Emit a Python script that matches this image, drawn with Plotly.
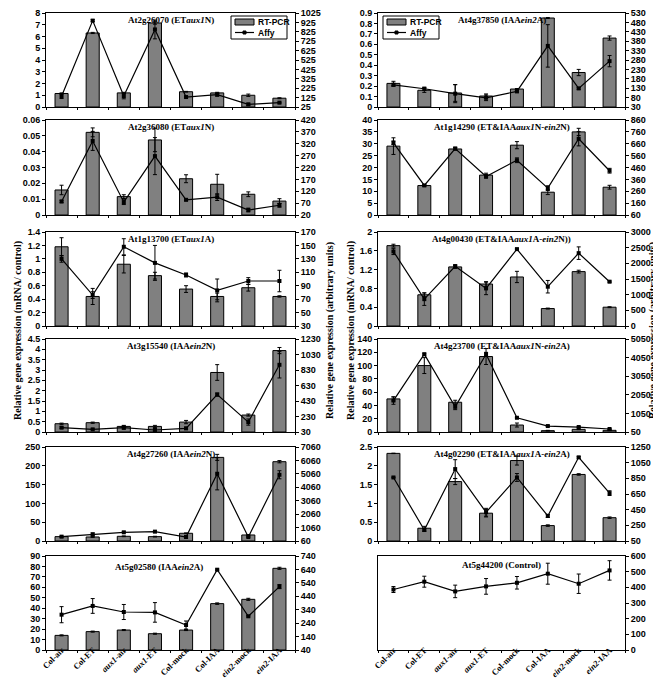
import plotly.graph_objects as go

categories = ["Col-air", "Col-ET", "aux1-air", "aux1-ET", "Col-mock", "Col-IAA", "ein2-mock", "ein2-IAA"]
category_labels = ["Col-air", "Col-ET", "<i>aux1</i>-air", "<i>aux1</i>-ET", "Col-mock", "Col-IAA",
                   "<i>ein2</i>-mock", "<i>ein2</i>-IAA"]
series_names = ["RT-PCR", "Affy"]

# At2g26070 (ET aux1 N)
at2g26070_rt = [1.15, 6.3, 1.2, 7.15, 1.3, 1.2, 1.0, 0.75]
at2g26070_rt_err = [0.05, 0.05, 0.05, 0.1, 0.03, 0.05, 0.1, 0.04]
at2g26070_affy = [140, 944, 142, 850, 131, 156, 53, 71]
at2g26070_affy_err = [25, 10, 30, 100, 8, 15, 12, 5]

# At4g37850 (IAA ein2 A)
at4g37850_rt = [0.226, 0.16, 0.134, 0.105, 0.172, 0.852, 0.33, 0.66]
at4g37850_rt_err = [0.02, 0.02, 0.08, 0.02, 0.005, 0.005, 0.03, 0.02]
at4g37850_affy = [148, 127, 101, 79, 113, 355, 129, 274]
at4g37850_affy_err = [8, 8, 48, 15, 4, 113, 5, 30]

# At2g36080 (ET aux1 N)
at2g36080_rt = [0.0158, 0.0522, 0.0116, 0.0474, 0.0229, 0.0194, 0.0131, 0.0088]
at2g36080_rt_err = [0.003, 0.0028, 0.0012, 0.0074, 0.0025, 0.0063, 0.0015, 0.0015]
at2g36080_affy = [77, 332, 74, 268, 84, 95, 41, 61]
at2g36080_affy_err = [5, 40, 10, 78, 4, 14, 8, 8]

# At1g14290 (ET&IAA aux1 N - ein2 N)
at1g14290_rt = [29.0, 12.4, 27.8, 16.8, 29.4, 9.6, 35.0, 11.7]
at1g14290_rt_err = [3.5, 0.3, 0.5, 0.8, 1.5, 1.0, 1.5, 0.8]
at1g14290_affy = [668, 309, 620, 385, 521, 286, 702, 433]
at1g14290_affy_err = [15, 5, 10, 15, 20, 20, 60, 20]

# At1g13700 (ET aux1 A)
at1g13700_rt = [1.18, 0.44, 0.92, 0.75, 0.55, 0.44, 0.57, 0.44]
at1g13700_rt_err = [0.135, 0.12, 0.13, 0.05, 0.05, 0.05, 0.05, 0.01]
at1g13700_affy = [130, 76, 148, 124, 106, 83, 97, 97]
at1g13700_affy_err = [5, 5, 12, 26, 3, 17, 5, 16]

# At4g00430 (ET&IAA aux1 A - ein2 N)
at4g00430_rt = [1.71, 0.664, 1.257, 0.893, 1.043, 0.371, 1.157, 0.4]
at4g00430_rt_err = [0.03, 0.04, 0.03, 0.05, 0.12, 0.01, 0.03, 0.01]
at4g00430_affy = [2379, 857, 1907, 1200, 2454, 1254, 2325, 1414]
at4g00430_affy_err = [100, 200, 50, 200, 20, 200, 200, 20]

# At3g15540 (IAA ein2 N)
at3g15540_rt = [0.4, 0.45, 0.27, 0.27, 0.48, 2.88, 0.82, 3.94]
at3g15540_rt_err = [0.03, 0.03, 0.05, 0.05, 0.08, 0.38, 0.05, 0.15]
at3g15540_affy = [86, 64, 86, 56, 77, 513, 158, 897]
at3g15540_affy_err = [10, 5, 20, 15, 15, 20, 40, 170]

# At4g23700 (ET&IAA aux1 N - ein2 A)
at4g23700_rt = [49.8, 100.0, 44.8, 113.6, 10.5, 2.0, 4.0, 2.5]
at4g23700_rt_err = [3, 12, 3, 12, 3, 0.5, 0.5, 0.5]
at4g23700_affy = [1740, 4232, 1402, 4232, 815, 370, 317, 210]
at4g23700_affy_err = [200, 50, 150, 100, 20, 20, 20, 20]

# At4g27260 (IAA ein2 N)
at4g27260_rt = [11.6, 10.7, 12.5, 11.6, 20.5, 222.4, 16.0, 210.9]
at4g27260_rt_err = [1, 1, 1, 1, 1, 8, 1, 3]
at4g27260_affy = [384, 558, 708, 757, 359, 5067, 359, 4992]
at4g27260_affy_err = [30, 100, 30, 30, 100, 1200, 30, 300]

# At4g02290 (ET&IAA aux1 A - ein2 A)
at4g02290_rt = [2.33, 0.34, 1.58, 0.74, 2.14, 0.41, 1.77, 0.62]
at4g02290_rt_err = [0.005, 0.05, 0.08, 0.1, 0.12, 0.02, 0.02, 0.02]
at4g02290_affy = [861, 191, 968, 417, 861, 370, 1118, 661]
at4g02290_affy_err = [5, 20, 120, 50, 50, 20, 10, 30]

# At5g02580 (IAA ein2 A)
at5g02580_rt = [14.0, 17.6, 19.1, 15.6, 19.1, 44.4, 48.5, 78.2]
at5g02580_rt_err = [0.5, 0.5, 0.5, 0.5, 0.5, 0.7, 1.0, 1.0]
at5g02580_affy = [303, 368, 323, 320, 226, 638, 291, 512]
at5g02580_affy_err = [60, 55, 56, 73, 30, 5, 5, 15]

# At5g44200 (Control)
at5g44200_affy = [386, 436, 374, 406, 429, 487, 423, 508]
at5g44200_affy_err = [19, 35, 40, 50, 40, 67, 62, 62]

titles = [
    "At2g26070 (ET<i>aux1</i>N)",
    "At4g37850 (IAA<i>ein2</i>A)",
    "At2g36080 (ET<i>aux1</i>N)",
    "At1g14290 (ET&amp;IAA<i>aux1</i>N-<i>ein2</i>N)",
    "At1g13700 (ET<i>aux1</i>A)",
    "At4g00430 (ET&amp;IAA<i>aux1</i>A-<i>ein2</i>N))",
    "At3g15540 (IAA<i>ein2</i>N)",
    "At4g23700 (ET&amp;IAA<i>aux1</i>N-<i>ein2</i>A)",
    "At4g27260 (IAA<i>ein2</i>N)",
    "At4g02290 (ET&amp;IAA<i>aux1</i>A-<i>ein2</i>A)",
    "At5g02580 (IAA<i>ein2</i>A)",
    "At5g44200 (Control)",
]

# (left max, left step, right min, right max, right step)
axis_ticks = [
    (8, 1, 25, 1025, 100),
    (0.9, 0.1, 30, 530, 50),
    (0.06, 0.01, 20, 420, 50),
    (40, 5, 60, 860, 100),
    (1.4, 0.2, 30, 170, 20),
    (2, 0.4, 0, 3000, 500),
    (4.5, 0.5, 30, 1230, 200),
    (140, 20, 50, 5050, 1000),
    (250, 50, 60, 7060, 1000),
    (2.5, 0.5, 50, 1250, 200),
    (90, 10, 40, 740, 100),
    (None, None, 0, 600, 100),
]

rt_series = [at2g26070_rt, at4g37850_rt, at2g36080_rt, at1g14290_rt, at1g13700_rt, at4g00430_rt,
             at3g15540_rt, at4g23700_rt, at4g27260_rt, at4g02290_rt, at5g02580_rt, None]
rt_errs = [at2g26070_rt_err, at4g37850_rt_err, at2g36080_rt_err, at1g14290_rt_err, at1g13700_rt_err,
           at4g00430_rt_err, at3g15540_rt_err, at4g23700_rt_err, at4g27260_rt_err, at4g02290_rt_err,
           at5g02580_rt_err, None]
affy_series = [at2g26070_affy, at4g37850_affy, at2g36080_affy, at1g14290_affy, at1g13700_affy,
               at4g00430_affy, at3g15540_affy, at4g23700_affy, at4g27260_affy, at4g02290_affy,
               at5g02580_affy, at5g44200_affy]
affy_errs = [at2g26070_affy_err, at4g37850_affy_err, at2g36080_affy_err, at1g14290_affy_err,
             at1g13700_affy_err, at4g00430_affy_err, at3g15540_affy_err, at4g23700_affy_err,
             at4g27260_affy_err, at4g02290_affy_err, at5g02580_affy_err, at5g44200_affy_err]

W, H = 661, 678
col_x = [(38, 287), (370, 617)]
row_y = [(5, 99), (112, 207), (224, 318), (331, 424), (439, 533), (548, 642)]
BAR_COLOR = "#808080"

tickfont = dict(family="Liberation Sans, Arial", size=9, color="black", weight="bold")
serif = "Liberation Serif, Times New Roman"

fig = go.Figure()
layout = {}
annotations = []
shapes = []
ax_common = dict(showline=True, linecolor="black", linewidth=1, ticks="outside", ticklen=3,
                 tickcolor="black", tickfont=tickfont, showgrid=False, zeroline=False,
                 ticklabeloverflow="allow")

for i in range(12):
    row, col = divmod(i, 2)
    x0, x1 = col_x[col]
    t, b = row_y[row]
    dom_x = [x0 / W, x1 / W]
    dom_y = [1 - b / H, 1 - t / H]
    lmax, lstep, rmin, rmax, rstep = axis_ticks[i]

    xn = "x" if i == 0 else f"x{i+1}"
    xk = "xaxis" if i == 0 else f"xaxis{i+1}"
    yl = "y" if i == 0 else f"y{2*i+1}"
    ylk = "yaxis" if i == 0 else f"yaxis{2*i+1}"
    yr = f"y{2*i+2}"
    yrk = f"yaxis{2*i+2}"
    has_bars = rt_series[i] is not None
    line_axis = yr if has_bars else yl

    if has_bars:
        fig.add_trace(go.Bar(
            x=categories, y=rt_series[i], xaxis=xn, yaxis=yl, name=series_names[0],
            width=0.42, marker=dict(color=BAR_COLOR, line=dict(color="black", width=1)),
            error_y=dict(type="data", array=rt_errs[i], color="black", thickness=1, width=2),
            showlegend=False))
    fig.add_trace(go.Scatter(
        x=categories, y=affy_series[i], xaxis=xn, yaxis=line_axis, name=series_names[1],
        mode="lines+markers",
        line=dict(color="black", width=1.2), marker=dict(symbol="square", size=4, color="black"),
        error_y=dict(type="data", array=affy_errs[i], color="black", thickness=1, width=2),
        showlegend=False))

    bottom = row == 5
    layout[xk] = dict(
        domain=dom_x, anchor=yl, type="category", categoryorder="array", categoryarray=categories,
        range=[-0.5, 7.5], showline=True, linecolor="black", linewidth=1, mirror=True,
        ticks="outside", ticklen=2, tickson="boundaries", tickcolor="black",
        showticklabels=bottom, tickvals=categories, ticktext=category_labels, tickangle=-45,
        ticklabelstandoff=-9,
        tickfont=dict(family=serif, size=8.5, color="black", weight="bold"), showgrid=False)
    if has_bars:
        layout[ylk] = dict(domain=dom_y, anchor=xn, range=[0, lmax + lstep * 1e-6], dtick=lstep,
                           tick0=0, **ax_common)
        layout[yrk] = dict(overlaying=yl, side="right", anchor=xn,
                           range=[rmin, rmax + rstep * 1e-6], tick0=rmin, dtick=rstep, **ax_common)
    else:
        layout[ylk] = dict(domain=dom_y, anchor=xn, side="right", mirror=True,
                           range=[rmin, rmax + rstep * 1e-6], tick0=rmin, dtick=rstep, **ax_common)

    tx = (x0 + x1) / 2
    ty = t + 7
    if i == 10:
        tx -= 12
        ty = t + 11
    if i == 11:
        ty = t + 9
    annotations.append(dict(x=tx / W, y=1 - ty / H, xref="paper", yref="paper", text=titles[i],
                            showarrow=False, xanchor="center", yanchor="middle",
                            font=dict(family=serif, size=9, color="black", weight="bold")))


# legend boxes (panel 1 and panel 2), drawn in pixel positions of the page
def px(x):
    return x / W


def py(y):
    return 1 - y / H


legfont = dict(family="Liberation Sans, Arial", size=8.5, color="black", weight="bold")
for left, top in [(223, 8), (375, 8)]:
    shapes.append(dict(type="rect", xref="paper", yref="paper", x0=px(left), x1=px(left + 56),
                       y0=py(top + 23), y1=py(top), line=dict(color="black", width=1),
                       fillcolor="white", layer="above"))
    shapes.append(dict(type="rect", xref="paper", yref="paper", x0=px(left + 4), x1=px(left + 23),
                       y0=py(top + 9), y1=py(top + 3), line=dict(color="black", width=1),
                       fillcolor=BAR_COLOR, layer="above"))
    shapes.append(dict(type="line", xref="paper", yref="paper", x0=px(left + 4), x1=px(left + 23),
                       y0=py(top + 16.5), y1=py(top + 16.5), line=dict(color="black", width=1.2),
                       layer="above"))
    shapes.append(dict(type="rect", xref="paper", yref="paper", x0=px(left + 12), x1=px(left + 15),
                       y0=py(top + 18), y1=py(top + 15), line=dict(color="black", width=1),
                       fillcolor="black", layer="above"))
    for k, yy in enumerate([top + 6, top + 16.5]):
        annotations.append(dict(x=px(left + 25), y=py(yy), xref="paper", yref="paper",
                                text=series_names[k], showarrow=False, xanchor="left",
                                yanchor="middle", font=legfont))

yt_font = dict(family=serif, size=10, color="black", weight="bold")
for xpx, txt in [(10, "Relative gene expression (mRNA/ control)"),
                 (322, "Relative gene expression (arbitrary units)"),
                 (343, "Relative gene expression (mRNA/ control)"),
                 (645, "Relative gene expression (arbitrary units)")]:
    annotations.append(dict(x=xpx / W, y=1 - 323 / H, xref="paper", yref="paper", text=txt,
                            textangle=-90, showarrow=False, xanchor="center", yanchor="middle",
                            font=yt_font))

fig.update_layout(
    width=W, height=H, margin=dict(l=0, r=0, t=0, b=0, autoexpand=False),
    paper_bgcolor="white", plot_bgcolor="rgba(0,0,0,0)", annotations=annotations, shapes=shapes,
    barmode="overlay", showlegend=False,
    **layout)

fig.write_html("out.html")
